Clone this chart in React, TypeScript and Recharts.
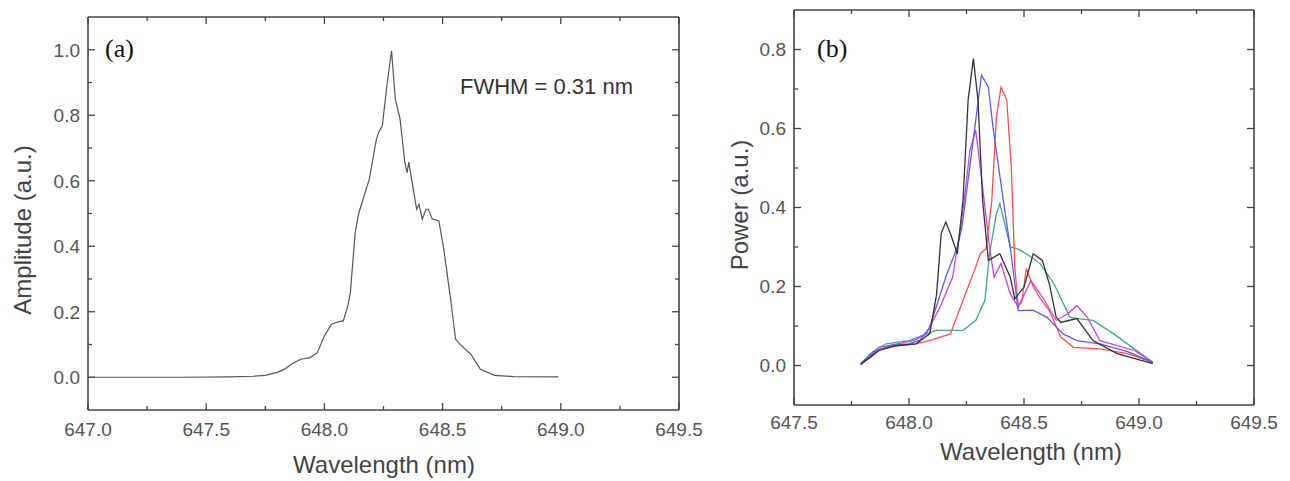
import React from "react";
import { Line, LineChart, XAxis, YAxis } from "recharts";

// (a) single spectrum
const spectrumX = [
  647.0, 647.2, 647.4, 647.6, 647.7, 647.75, 647.8, 647.83, 647.86, 647.9, 647.94, 647.97, 648.0, 648.03,
  648.06, 648.08, 648.1, 648.11, 648.13, 648.145, 648.16, 648.19, 648.22, 648.23, 648.245, 648.266, 648.284,
  648.3, 648.32, 648.34, 648.35, 648.357, 648.378, 648.39, 648.4, 648.414, 648.43, 648.44, 648.456, 648.484,
  648.505, 648.534, 648.555, 648.58, 648.62, 648.66, 648.72, 648.8, 648.99,
];
const spectrumY = [
  0, 0, 0, 0.001, 0.003, 0.006, 0.015, 0.024, 0.04, 0.055, 0.06, 0.075, 0.126, 0.162,
  0.17, 0.172, 0.22, 0.26, 0.44, 0.5, 0.535, 0.605, 0.727, 0.748, 0.768, 0.9, 0.997,
  0.85, 0.788, 0.657, 0.625, 0.657, 0.565, 0.513, 0.528, 0.483, 0.513, 0.513, 0.483, 0.478,
  0.391, 0.238, 0.116, 0.096, 0.07, 0.024, 0.006, 0.002, 0.001,
];

// (b) five spectra
const blackX = [647.79, 647.83, 647.87, 647.94, 648.03, 648.09, 648.12, 648.14, 648.16, 648.18, 648.21, 648.235, 648.257, 648.28, 648.3, 648.32, 648.345, 648.395, 648.44, 648.46, 648.5, 648.54, 648.58, 648.61, 648.64, 648.66, 648.73, 648.8, 648.905, 649.06];
const blackY = [0.004, 0.02, 0.038, 0.05, 0.055, 0.08, 0.18, 0.334, 0.363, 0.334, 0.283, 0.418, 0.672, 0.777, 0.672, 0.418, 0.266, 0.283, 0.224, 0.169, 0.198, 0.283, 0.266, 0.207, 0.122, 0.109, 0.119, 0.063, 0.03, 0.005];

const blueX = [647.79, 647.85, 647.92, 648.0, 648.05, 648.09, 648.16, 648.21, 648.23, 648.27, 648.315, 648.345, 648.365, 648.41, 648.44, 648.475, 648.54, 648.6, 648.67, 648.73, 648.83, 648.95, 649.06];
const blueY = [0.003, 0.035, 0.05, 0.055, 0.065, 0.097, 0.224, 0.3, 0.35, 0.528, 0.735, 0.705, 0.604, 0.418, 0.3, 0.139, 0.14, 0.122, 0.08, 0.063, 0.055, 0.035, 0.008];

const magentaX = [647.79, 647.87, 647.95, 648.02, 648.075, 648.135, 648.19, 648.235, 648.265, 648.29, 648.32, 648.35, 648.37, 648.4, 648.44, 648.475, 648.53, 648.585, 648.64, 648.69, 648.73, 648.775, 648.83, 648.98, 649.06];
const magentaY = [0.002, 0.046, 0.055, 0.063, 0.08, 0.148, 0.224, 0.393, 0.545, 0.596, 0.452, 0.3, 0.224, 0.258, 0.182, 0.148, 0.215, 0.169, 0.114, 0.131, 0.152, 0.122, 0.063, 0.038, 0.008];

const redX = [647.79, 647.87, 647.95, 648.03, 648.1, 648.18, 648.235, 648.29, 648.31, 648.335, 648.36, 648.38, 648.4, 648.425, 648.445, 648.46, 648.475, 648.49, 648.51, 648.54, 648.57, 648.61, 648.66, 648.715, 648.83, 648.95, 649.06];
const redY = [0.002, 0.04, 0.05, 0.055, 0.065, 0.08, 0.165, 0.249, 0.283, 0.296, 0.418, 0.629, 0.705, 0.672, 0.5, 0.25, 0.15, 0.16, 0.245, 0.2, 0.17, 0.139, 0.072, 0.046, 0.042, 0.03, 0.008];

const tealX = [647.79, 647.84, 647.9, 648.0, 648.075, 648.12, 648.15, 648.235, 648.29, 648.33, 648.35, 648.38, 648.395, 648.42, 648.44, 648.47, 648.51, 648.57, 648.63, 648.7, 648.745, 648.8, 648.89, 649.02, 649.06];
const tealY = [0.005, 0.034, 0.055, 0.063, 0.08, 0.089, 0.089, 0.089, 0.114, 0.165, 0.283, 0.384, 0.41, 0.35, 0.3, 0.296, 0.283, 0.258, 0.207, 0.122, 0.118, 0.114, 0.08, 0.025, 0.008];

// ticks (every minor tick; labels only on majors)
const ticksAX = [647, 647.25, 647.5, 647.75, 648, 648.25, 648.5, 648.75, 649, 649.25, 649.5];
const ticksAY = [0, 0.1, 0.2, 0.3, 0.4, 0.5, 0.6, 0.7, 0.8, 0.9, 1.0];
const ticksBX = [647.5, 647.75, 648, 648.25, 648.5, 648.75, 649, 649.25, 649.5];
const ticksBY = [0, 0.1, 0.2, 0.3, 0.4, 0.5, 0.6, 0.7, 0.8];

const zip = (xs: number[], ys: number[]) => xs.map((x, i) => ({ x, y: ys[i] }));

const FONT = "'Liberation Sans', Arial, sans-serif";
const SERIF = "'Liberation Serif', 'DejaVu Serif', serif";
const AXIS = "#444";
const TXT = "#555";
const MAJOR = 7;
const MINOR = 4;

const isMajorX = (v: number) => Math.abs(v * 2 - Math.round(v * 2)) < 1e-6;
const isMajorY = (v: number) => Math.round(v * 10) % 2 === 0;

function bottomTick(labelDy: number) {
  return (p: any) => {
    const v = p.payload.value;
    const major = isMajorX(v);
    return (
      <g>
        <line x1={p.x} x2={p.x} y1={p.y} y2={p.y - (major ? MAJOR : MINOR)} stroke={AXIS} strokeWidth={1.3} />
        {major && (
          <text x={p.x} y={p.y + labelDy} textAnchor="middle" fontFamily={FONT} fontSize={19} fill={TXT}>
            {v.toFixed(1)}
          </text>
        )}
      </g>
    );
  };
}

function topTick(p: any) {
  const major = isMajorX(p.payload.value);
  return <line x1={p.x} x2={p.x} y1={p.y} y2={p.y + (major ? MAJOR : MINOR)} stroke={AXIS} strokeWidth={1.3} />;
}

function leftTick(p: any) {
  const v = p.payload.value;
  const major = isMajorY(v);
  return (
    <g>
      <line x1={p.x} x2={p.x + (major ? MAJOR : MINOR)} y1={p.y} y2={p.y} stroke={AXIS} strokeWidth={1.3} />
      {major && (
        <text x={p.x - 8} y={p.y} dy="0.36em" textAnchor="end" fontFamily={FONT} fontSize={19} fill={TXT}>
          {v.toFixed(1)}
        </text>
      )}
    </g>
  );
}

function rightTick(p: any) {
  const major = isMajorY(p.payload.value);
  return <line x1={p.x} x2={p.x - (major ? MAJOR : MINOR)} y1={p.y} y2={p.y} stroke={AXIS} strokeWidth={1.3} />;
}

const axisLine = { stroke: AXIS, strokeWidth: 1.6 };

const seriesB = [
  { name: "teal", color: "#3fa88c", data: zip(tealX, tealY) },
  { name: "red", color: "#ff5050", data: zip(redX, redY) },
  { name: "magenta", color: "#c445e6", data: zip(magentaX, magentaY) },
  { name: "blue", color: "#5b5bff", data: zip(blueX, blueY) },
  { name: "black", color: "#333333", data: zip(blackX, blackY) },
];

export default function App() {
  const spectrum = zip(spectrumX, spectrumY);
  return (
    <div style={{ position: "absolute", left: 0, top: 0, width: 1290, height: 481, background: "#fff" }}>
      <div style={{ position: "absolute", left: 0, top: 0 }}>
        <LineChart width={730} height={481} data={spectrum} margin={{ top: 16, left: 87, right: 50, bottom: 70 }}>
          <XAxis dataKey="x" type="number" domain={[647, 649.5]} ticks={ticksAX} interval={0} allowDataOverflow
            height={1} tickSize={0} tickMargin={0} tickLine={false} axisLine={axisLine} tick={bottomTick(26)} />
          <XAxis xAxisId="top" orientation="top" dataKey="x" type="number" domain={[647, 649.5]} ticks={ticksAX}
            interval={0} allowDataOverflow height={1} tickSize={0} tickMargin={0} tickLine={false} axisLine={axisLine}
            tick={topTick} />
          <YAxis type="number" domain={[-0.1, 1.1]} ticks={ticksAY} interval={0} allowDataOverflow width={1}
            tickSize={0} tickMargin={0} tickLine={false} axisLine={axisLine} tick={leftTick} />
          <YAxis yAxisId="right" orientation="right" type="number" domain={[-0.1, 1.1]} ticks={ticksAY} interval={0}
            allowDataOverflow width={1} tickSize={0} tickMargin={0} tickLine={false} axisLine={axisLine}
            tick={rightTick} />
          <Line dataKey="y" type="linear" stroke="#555" strokeWidth={1.2} dot={false} isAnimationActive={false} />
        </LineChart>
      </div>
      <div style={{ position: "absolute", left: 700, top: 0 }}>
        <LineChart width={590} height={481} margin={{ top: 9, left: 93, right: 35, bottom: 75 }}>
          <XAxis dataKey="x" type="number" domain={[647.5, 649.5]} ticks={ticksBX} interval={0} allowDataOverflow
            height={1} tickSize={0} tickMargin={0} tickLine={false} axisLine={axisLine} tick={bottomTick(24)} />
          <XAxis xAxisId="top" orientation="top" dataKey="x" type="number" domain={[647.5, 649.5]} ticks={ticksBX}
            interval={0} allowDataOverflow height={1} tickSize={0} tickMargin={0} tickLine={false} axisLine={axisLine}
            tick={topTick} />
          <YAxis type="number" domain={[-0.1, 0.9]} ticks={ticksBY} interval={0} allowDataOverflow width={1}
            tickSize={0} tickMargin={0} tickLine={false} axisLine={axisLine} tick={leftTick} />
          <YAxis yAxisId="right" orientation="right" type="number" domain={[-0.1, 0.9]} ticks={ticksBY} interval={0}
            allowDataOverflow width={1} tickSize={0} tickMargin={0} tickLine={false} axisLine={axisLine}
            tick={rightTick} />
          {seriesB.map((s) => (
            <Line key={s.name} data={s.data} dataKey="y" type="linear" stroke={s.color} strokeWidth={1.3}
              dot={false} isAnimationActive={false} />
          ))}
        </LineChart>
      </div>
      <svg width={1290} height={481} style={{ position: "absolute", left: 0, top: 0, pointerEvents: "none" }}>
        <text x={105} y={57} fontFamily={SERIF} fontSize={26} fill="#111">(a)</text>
        <text x={460} y={94} fontFamily={FONT} fontSize={22} fill="#333">FWHM = 0.31 nm</text>
        <text x={384} y={473} textAnchor="middle" fontFamily={FONT} fontSize={24} fill="#444">Wavelength (nm)</text>
        <text transform="translate(31,230) rotate(-90)" textAnchor="middle" fontFamily={FONT} fontSize={24} fill="#444">
          Amplitude (a.u.)
        </text>
        <text x={817} y={57} fontFamily={SERIF} fontSize={26} fill="#111">(b)</text>
        <text x={1031} y={460} textAnchor="middle" fontFamily={FONT} fontSize={24} fill="#444">Wavelength (nm)</text>
        <text transform="translate(748,205) rotate(-90)" textAnchor="middle" fontFamily={FONT} fontSize={24} fill="#444">
          Power (a.u.)
        </text>
      </svg>
    </div>
  );
}
